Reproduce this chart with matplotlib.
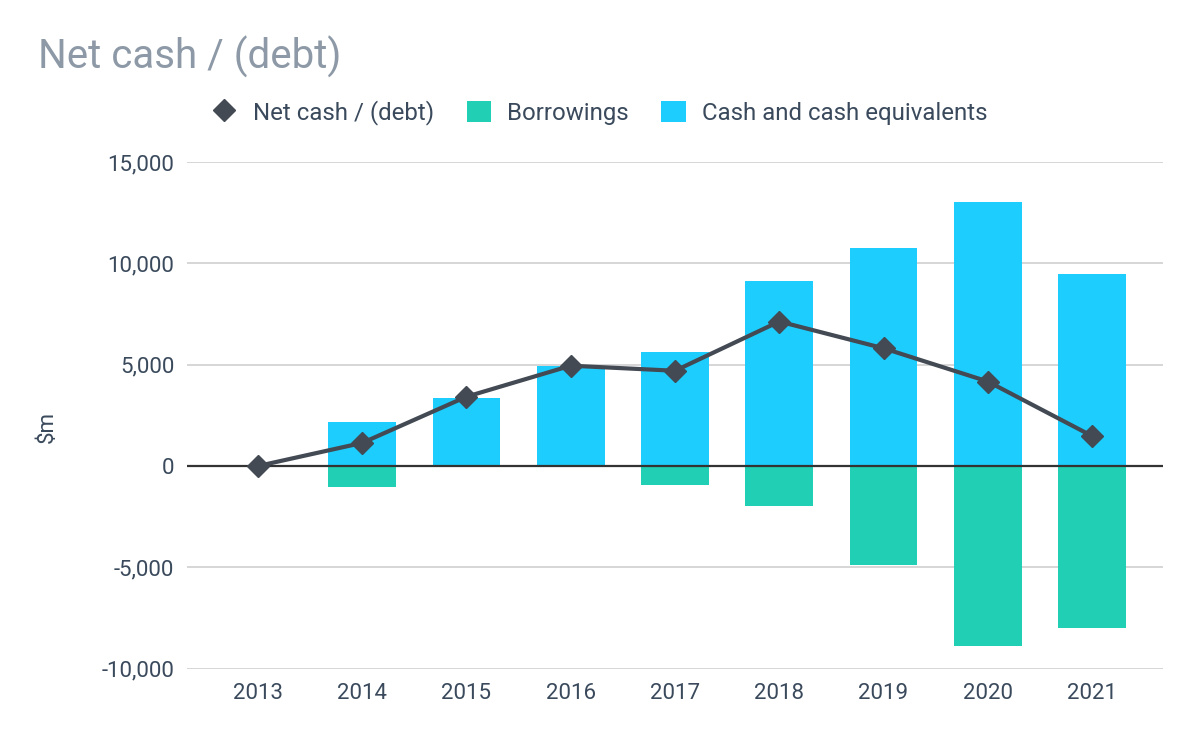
import matplotlib.pyplot as plt
from matplotlib.lines import Line2D
from matplotlib.patches import Patch
from matplotlib.ticker import FuncFormatter

plt.rcParams['font.family'] = ['Roboto', 'DejaVu Sans']

# Data ($m)
years = ['2013', '2014', '2015', '2016', '2017', '2018', '2019', '2020', '2021']
cash = [0, 2180, 3370, 4950, 5640, 9110, 10770, 13040, 9490]
borrowings = [0, -1040, 0, 0, -940, -1950, -4860, -8900, -8010]
net_cash = [0, 1140, 3420, 4950, 4700, 7130, 5810, 4170, 1480]

cash_color = '#1dcdfe'
borrow_color = '#21cfb4'
line_color = '#434a53'
text_color = '#3a4a5c'

fig = plt.figure(figsize=(12, 7.42), dpi=100)
ax = fig.add_axes([187 / 1200, 1 - 668.7 / 742, (1163 - 187) / 1200, (668.7 - 162) / 742])

x = list(range(len(years)))

# Bars
ax.bar(x, cash, width=0.65, color=cash_color, zorder=2)
ax.bar(x, borrowings, width=0.65, color=borrow_color, zorder=2)

# Net cash line
ax.plot(x, net_cash, color=line_color, linewidth=3, marker='D', markersize=11.5,
        zorder=4)

# Axes styling
ax.set_xlim(-0.68, 8.68)
ax.set_ylim(-10000, 15000)
ax.set_yticks([-10000, -5000, 0, 5000, 10000, 15000])
ax.yaxis.set_major_formatter(FuncFormatter(lambda v, p: f'{int(v):,}'))
ax.set_xticks(x)
ax.set_xticklabels(years)
ax.grid(axis='y', color='#cccccc', linewidth=1.1, zorder=0)
ax.axhline(0, color='#333333', linewidth=1.6, zorder=3)
for s in ax.spines.values():
    s.set_visible(False)
ax.tick_params(axis='both', length=0, labelsize=16, colors=text_color)
ax.tick_params(axis='y', pad=9)
ax.tick_params(axis='x', pad=10)

# Title and axis label
fig.text(38 / 1200, 1 - 69 / 742, 'Net cash / (debt)', fontsize=29, color='#8d99a6',
         va='baseline', ha='left')
fig.text(47 / 1200, 1 - 427 / 742, '$m', fontsize=16, color=text_color, rotation=90,
         va='center', ha='center')

# Legend
handles = [
    Line2D([0], [0], color=line_color, marker='D', markersize=11.5, linestyle='none'),
    Patch(facecolor=borrow_color),
    Patch(facecolor=cash_color),
]
labels = ['Net cash / (debt)', 'Borrowings', 'Cash and cash equivalents']
fig.legend(handles, labels, loc='center', bbox_to_anchor=(0.5, 1 - 113 / 742), ncol=3,
           frameon=False, fontsize=17.3, labelcolor=text_color, handlelength=1.0,
           handleheight=1.0, handletextpad=0.7, columnspacing=1.35)

fig.savefig('out.png', dpi=100)
